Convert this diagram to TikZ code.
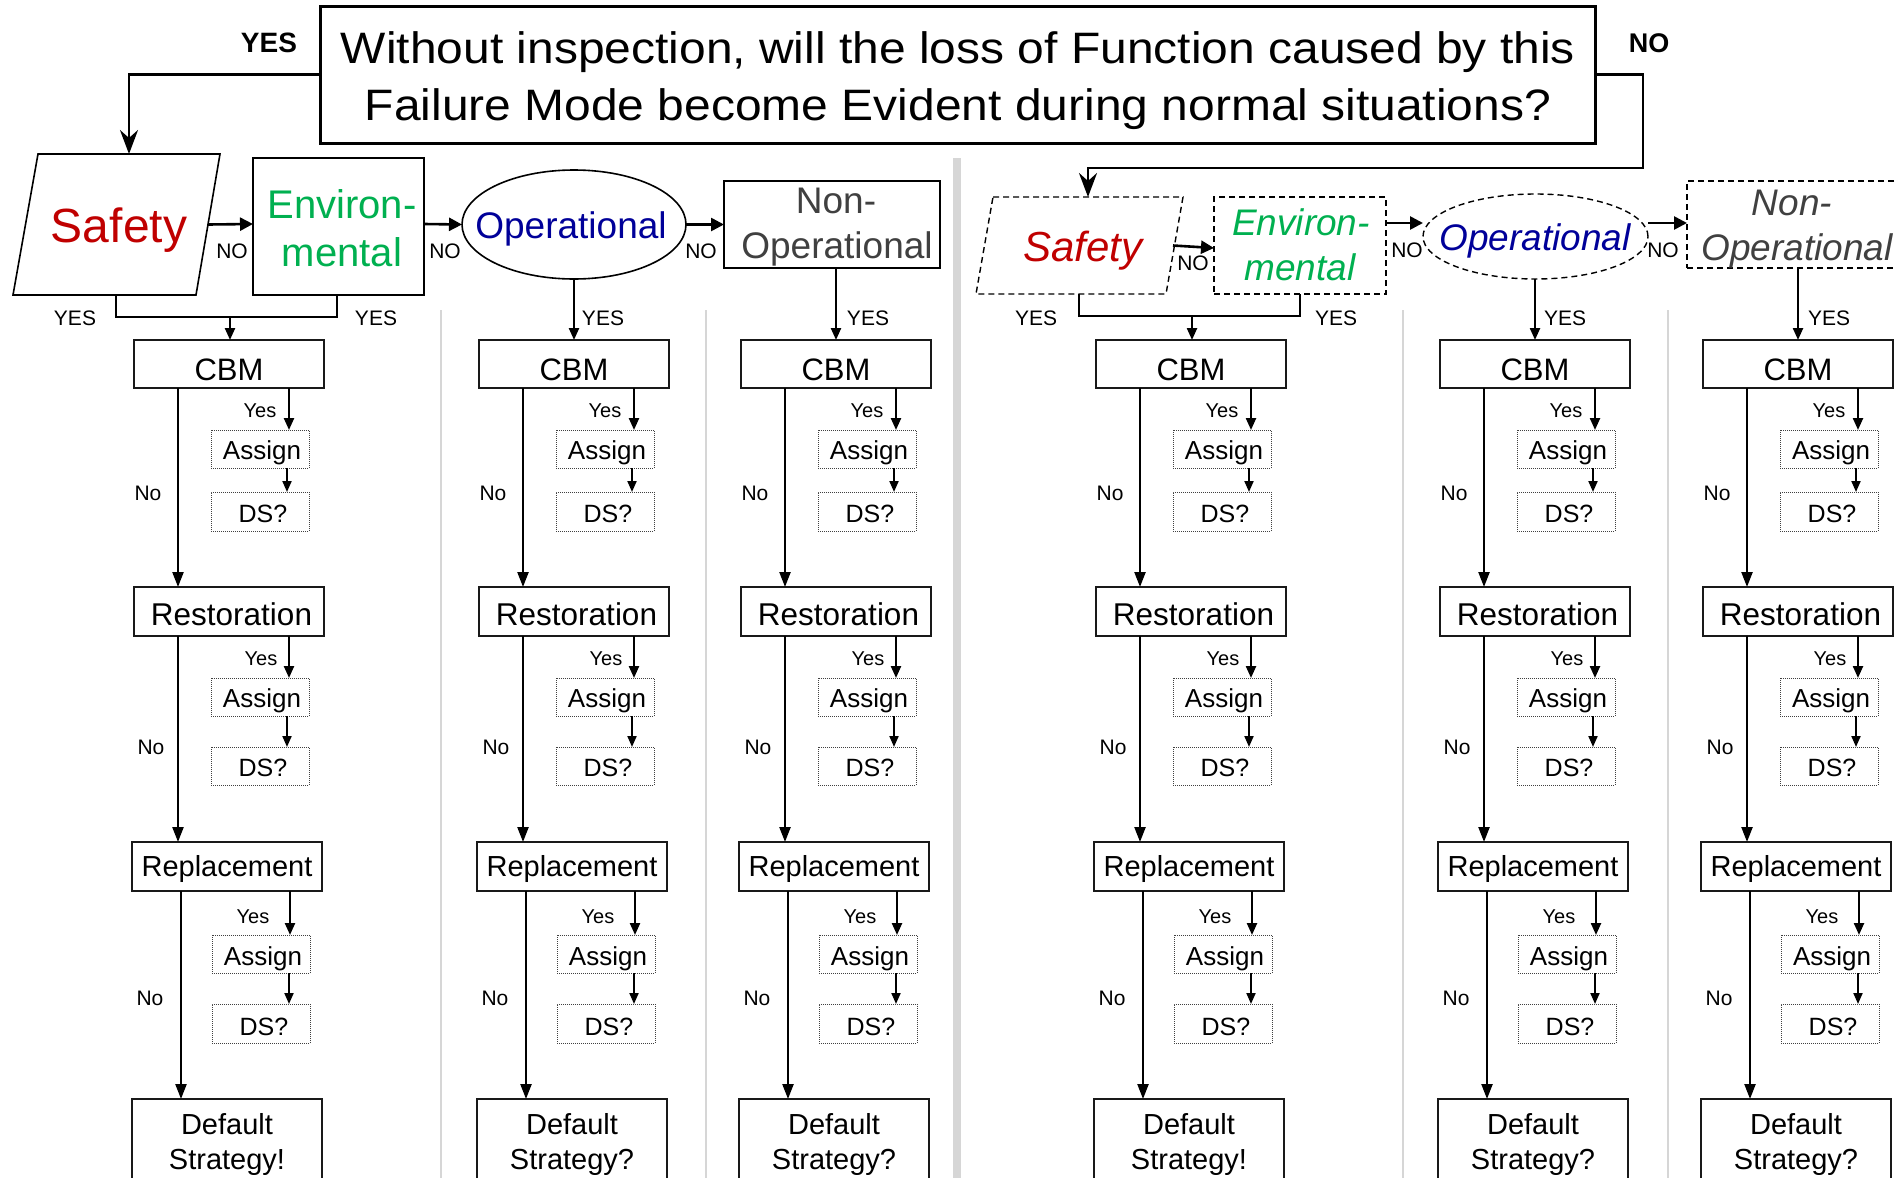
\documentclass[tikz,border=0pt]{standalone}
\usepackage{fontspec}
\setmainfont{Liberation Sans}
\newfontfamily\qfont[FakeStretch=1.09]{Liberation Sans}
\usetikzlibrary{arrows.meta,shapes.geometric}

\definecolor{safetyred}{HTML}{C00000}
\definecolor{envgreen}{HTML}{00B050}
\definecolor{opblue}{HTML}{000099}
\definecolor{nongray}{HTML}{404040}
\definecolor{sepgray}{HTML}{D6D6D6}

\newcommand{\fsz}[2]{\fontsize{#1}{#2}\selectfont}

\begin{document}
\begin{tikzpicture}[x=1pt,y=-1pt,
  every node/.style={inner sep=0pt,outer sep=0pt},
  qbox/.style={draw,line width=3pt,minimum width=1275pt,minimum height=137pt},
  catbox/.style={draw,line width=1.6pt},
  dashbox/.style={draw,line width=1.4pt,dash pattern=on 6pt off 4pt},
  colbox/.style={draw=black!90,line width=1.8pt,minimum width=190pt},
  subbox/.style={draw=black!75,line width=1pt,densely dotted,minimum width=98pt},
  arr/.style={line width=2.3pt,-{Triangle[length=15pt,width=11pt]}},
  arry/.style={line width=2.3pt,-{Triangle[length=12pt,width=10pt]}},
  arrs/.style={line width=2pt,-{Triangle[length=11pt,width=9pt]}},
  arrh/.style={line width=2.6pt,-{Triangle[length=13pt,width=13pt]}},
  qarr/.style={line width=2.8pt,-{Stealth[length=24pt,width=18pt,inset=8pt]}},
  lbl/.style={anchor=base,font=\fsz{21}{25}},
  ylbl/.style={anchor=base,font=\fsz{20}{24}},
  cattxt/.style={anchor=base,font=\fsz{37}{45}},
  sep/.style={draw=sepgray,line width=2pt}
]
\fill[white] (0,0) rectangle (1896,1178);
\useasboundingbox (0,0) rectangle (1896,1178);

% column separators
\draw[sep] (441,310) -- (441,1178);
\draw[sep] (706,310) -- (706,1178);
\draw[sep] (1403,310) -- (1403,1178);
\draw[sep] (1668,310) -- (1668,1178);
\draw[sep,line width=8pt] (957,158) -- (957,1178);

% the question
\node[qbox] (q) at (957.5,74.5) {};
\node[anchor=base,font=\qfont\fsz{44}{57}] (q1) at (958,63)
  {Without inspection, will the loss of Function caused by this};
\node[anchor=base,font=\qfont\fsz{44}{57}] (q2) at (958,120)
  {Failure Mode become Evident during normal situations?};
\node[anchor=base,font=\bfseries\fsz{28}{32}] (qyes) at (269,52) {YES};
\node[anchor=base,font=\bfseries\fsz{27}{32}] (qno) at (1649,52) {NO};

% evident branch (left): Safety parallelogram
\draw[line width=1.6pt] (38,154) -- (220,154) -- (196,295) -- (13,295) -- cycle;
\coordinate (s1top) at (129,154);
\coordinate (s1bot) at (116,295);
\coordinate (s1east) at (208,224.5);
\node[font=\fsz{48}{58},text=safetyred,text height=35pt,text depth=0pt] (s1t) at (119,224.5) {Safety};
\node[catbox,minimum width=171pt,minimum height=137pt] (e1) at (338.5,226.5) {};
\node[cattxt,font=\fsz{40}{48},text=envgreen] (e1a) at (342,218) {Environ-};
\node[cattxt,font=\fsz{40}{48},text=envgreen] (e1b) at (342,266) {mental};
\node[ellipse,catbox,minimum width=224pt,minimum height=109pt] (o1) at (574,224.5) {};
\node[font=\fsz{37}{45},text=opblue,text height=27pt,text depth=0pt] (o1t) at (571,224.5) {Operational};
\node[catbox,minimum width=216pt,minimum height=87pt] (n1) at (832,224.5) {};
\node[cattxt,text=nongray] (n1a) at (836,213) {Non-};
\node[cattxt,text=nongray] (n1b) at (837,258) {Operational};

% hidden branch (right): Safety parallelogram
\draw[line width=1.4pt,dash pattern=on 6pt off 4pt] (993,197) -- (1183,197) -- (1166,294) -- (976,294) -- cycle;
\coordinate (s2top) at (1088,197);
\coordinate (s2bot) at (1079,294);
\coordinate (s2east) at (1173,245.5);
\node[font=\itshape\fsz{42}{50},text=safetyred,text height=31pt,text depth=0pt] (s2t) at (1083,245.5) {Safety};
\node[dashbox,minimum width=172pt,minimum height=97pt] (e2) at (1300,245.5) {};
\node[cattxt,font=\itshape\fsz{37}{45},text=envgreen] (e2a) at (1301,235) {Environ-};
\node[cattxt,font=\itshape\fsz{37}{45},text=envgreen] (e2b) at (1300,280) {mental};
\node[ellipse,dashbox,minimum width=225pt,minimum height=85pt] (o2) at (1535.5,236.5) {};
\node[font=\itshape\fsz{37}{45},text=opblue,text height=27pt,text depth=0pt] (o2t) at (1535,236.5) {Operational};
\node[dashbox,minimum width=220pt,minimum height=87pt] (n2) at (1797,224.5) {};
\node[cattxt,font=\itshape\fsz{37}{45},text=nongray] (n2a) at (1792,215) {Non-};
\node[cattxt,font=\itshape\fsz{37}{45},text=nongray] (n2b) at (1797,260) {Operational};

% question outcomes
\coordinate (nobend) at (1643,168);
\draw[qarr] (q.west) -| (s1top);
\draw[qarr] (q.east) -| (nobend) -| (s2top);

% NO chains
\draw[arrh] (s1east) -- ([yshift=2.5pt]e1.west);
\draw[arrh] ([yshift=2.5pt]e1.east) -- (o1.west);
\draw[arrh] (o1.east) -- (n1.west);
\node[lbl] (no1) at (232,258) {NO};
\node[lbl] (no2) at (445,258) {NO};
\node[lbl] (no3) at (701,258) {NO};

\draw[arrh] (s2east) -- ([yshift=-2.5pt]e2.west);
\draw[arrh] ([yshift=22.5pt]e2.east) -- ([yshift=13.5pt]o2.west);
\draw[arrh] ([yshift=13.5pt]o2.east) -- ([yshift=1.5pt]n2.west);
\node[lbl] (no4) at (1193,270) {NO};
\node[lbl] (no5) at (1407,257) {NO};
\node[lbl] (no6) at (1663,257) {NO};

% strategy columns
\foreach \L/\i/\mk in {134/1/!,479/2/?,741/3/?,1096/4/!,1440/5/?,1703/6/?}{
  \coordinate (xno\i) at (\L+44,0);
  \coordinate (xnoc\i) at (\L+47,0);
  \coordinate (xy\i) at (\L+155,0);
  \coordinate (xyc\i) at (\L+156,0);
  \coordinate (xd\i) at (\L+153,0);
  \coordinate (xdc\i) at (\L+155,0);

  \node[colbox,minimum height=48pt,font=\fsz{31}{37},text height=32pt,text depth=0pt]
    (cbm\i) at (\L+95,364) {CBM};
  \node[colbox,minimum height=49pt,font=\fsz{31.5}{38},text height=27pt,text depth=0pt]
    (res\i) at (\L+95,611.5) {\kern5pt Restoration};
  \node[colbox,minimum height=49pt,font=\fsz{29}{35},text height=22pt,text depth=3pt]
    (rep\i) at (\L+93,866.5) {Replacement};
  \node[colbox,minimum height=90pt,font=\fsz{29}{35},align=center,anchor=north]
    (def\i) at (\L+93,1099) {Default\\Strategy\mk};

  \node[subbox,minimum height=38pt,font=\fsz{26}{30},text height=20pt,text depth=0pt]
    (asa\i) at (\L+126,449) {\kern4pt Assign};
  \node[subbox,minimum height=39pt,font=\fsz{25}{30},text height=21pt,text depth=0pt]
    (dsa\i) at (\L+126,511.5) {\kern6pt DS?};
  \node[subbox,minimum height=38pt,font=\fsz{26}{30},text height=20pt,text depth=0pt]
    (asb\i) at (\L+126,697) {\kern4pt Assign};
  \node[subbox,minimum height=38pt,font=\fsz{25}{30},text height=20pt,text depth=0pt]
    (dsb\i) at (\L+126,766) {\kern6pt DS?};
  \node[subbox,minimum height=38pt,font=\fsz{26}{30},text height=22pt,text depth=0pt]
    (asc\i) at (\L+127,954) {\kern4pt Assign};
  \node[subbox,minimum height=39pt,font=\fsz{25}{30},text height=23pt,text depth=0pt]
    (dsc\i) at (\L+127,1023.5) {\kern6pt DS?};

  \draw[arr] (cbm\i.south -| xno\i) -- (res\i.north -| xno\i);
  \draw[arr] (res\i.south -| xno\i) -- (rep\i.north -| xno\i);
  \draw[arr] (rep\i.south -| xnoc\i) -- (def\i.north -| xnoc\i);

  \draw[arry] (cbm\i.south -| xy\i) -- (asa\i.north -| xy\i);
  \draw[arry] (res\i.south -| xy\i) -- (asb\i.north -| xy\i);
  \draw[arry] (rep\i.south -| xyc\i) -- (asc\i.north -| xyc\i);

  \draw[arrs] (asa\i.south -| xd\i) -- (dsa\i.north -| xd\i);
  \draw[arrs] (asb\i.south -| xd\i) -- (dsb\i.north -| xd\i);
  \draw[arrs] (asc\i.south -| xdc\i) -- (dsc\i.north -| xdc\i);

  \node[ylbl] (ya\i) at (\L+126,417) {Yes};
  \node[ylbl] (yb\i) at (\L+127,665) {Yes};
  \node[ylbl] (yc\i) at (\L+119,923) {Yes};
  \node[lbl] (na\i) at (\L+14,500) {No};
  \node[lbl] (nb\i) at (\L+17,754) {No};
  \node[lbl] (nc\i) at (\L+16,1005) {No};
}

% YES routes into the columns
\coordinate (j1) at (230,317);
\draw[line width=2.4pt] (s1bot) |- (j1);
\draw[line width=1.3pt] ([xshift=-1.5pt]e1.south) |- (j1);
\draw[arry] (j1) -- (cbm1.north -| j1);
\draw[arry] (cbm2.north |- o1.south) -- (cbm2.north);
\draw[arry] (cbm3.north |- n1.south) -- (cbm3.north);

\coordinate (j2) at (1192,316);
\draw[line width=2.4pt] (s2bot) |- (j2);
\draw[line width=1.3pt] (e2.south) |- (j2);
\draw[arry] (j2) -- (cbm4.north -| j2);
\draw[arry] (cbm5.north |- o2.south) -- (cbm5.north);
\draw[arry] (cbm6.north |- n2.south) -- (cbm6.north);

\node[lbl] (ys1) at (75,325) {YES};
\node[lbl] (ye1) at (376,325) {YES};
\node[lbl] (yo1) at (603,325) {YES};
\node[lbl] (yn1) at (868,325) {YES};
\node[lbl] (ys2) at (1036,325) {YES};
\node[lbl] (ye2) at (1336,325) {YES};
\node[lbl] (yo2) at (1565,325) {YES};
\node[lbl] (yn2) at (1829,325) {YES};
\end{tikzpicture}
\end{document}
